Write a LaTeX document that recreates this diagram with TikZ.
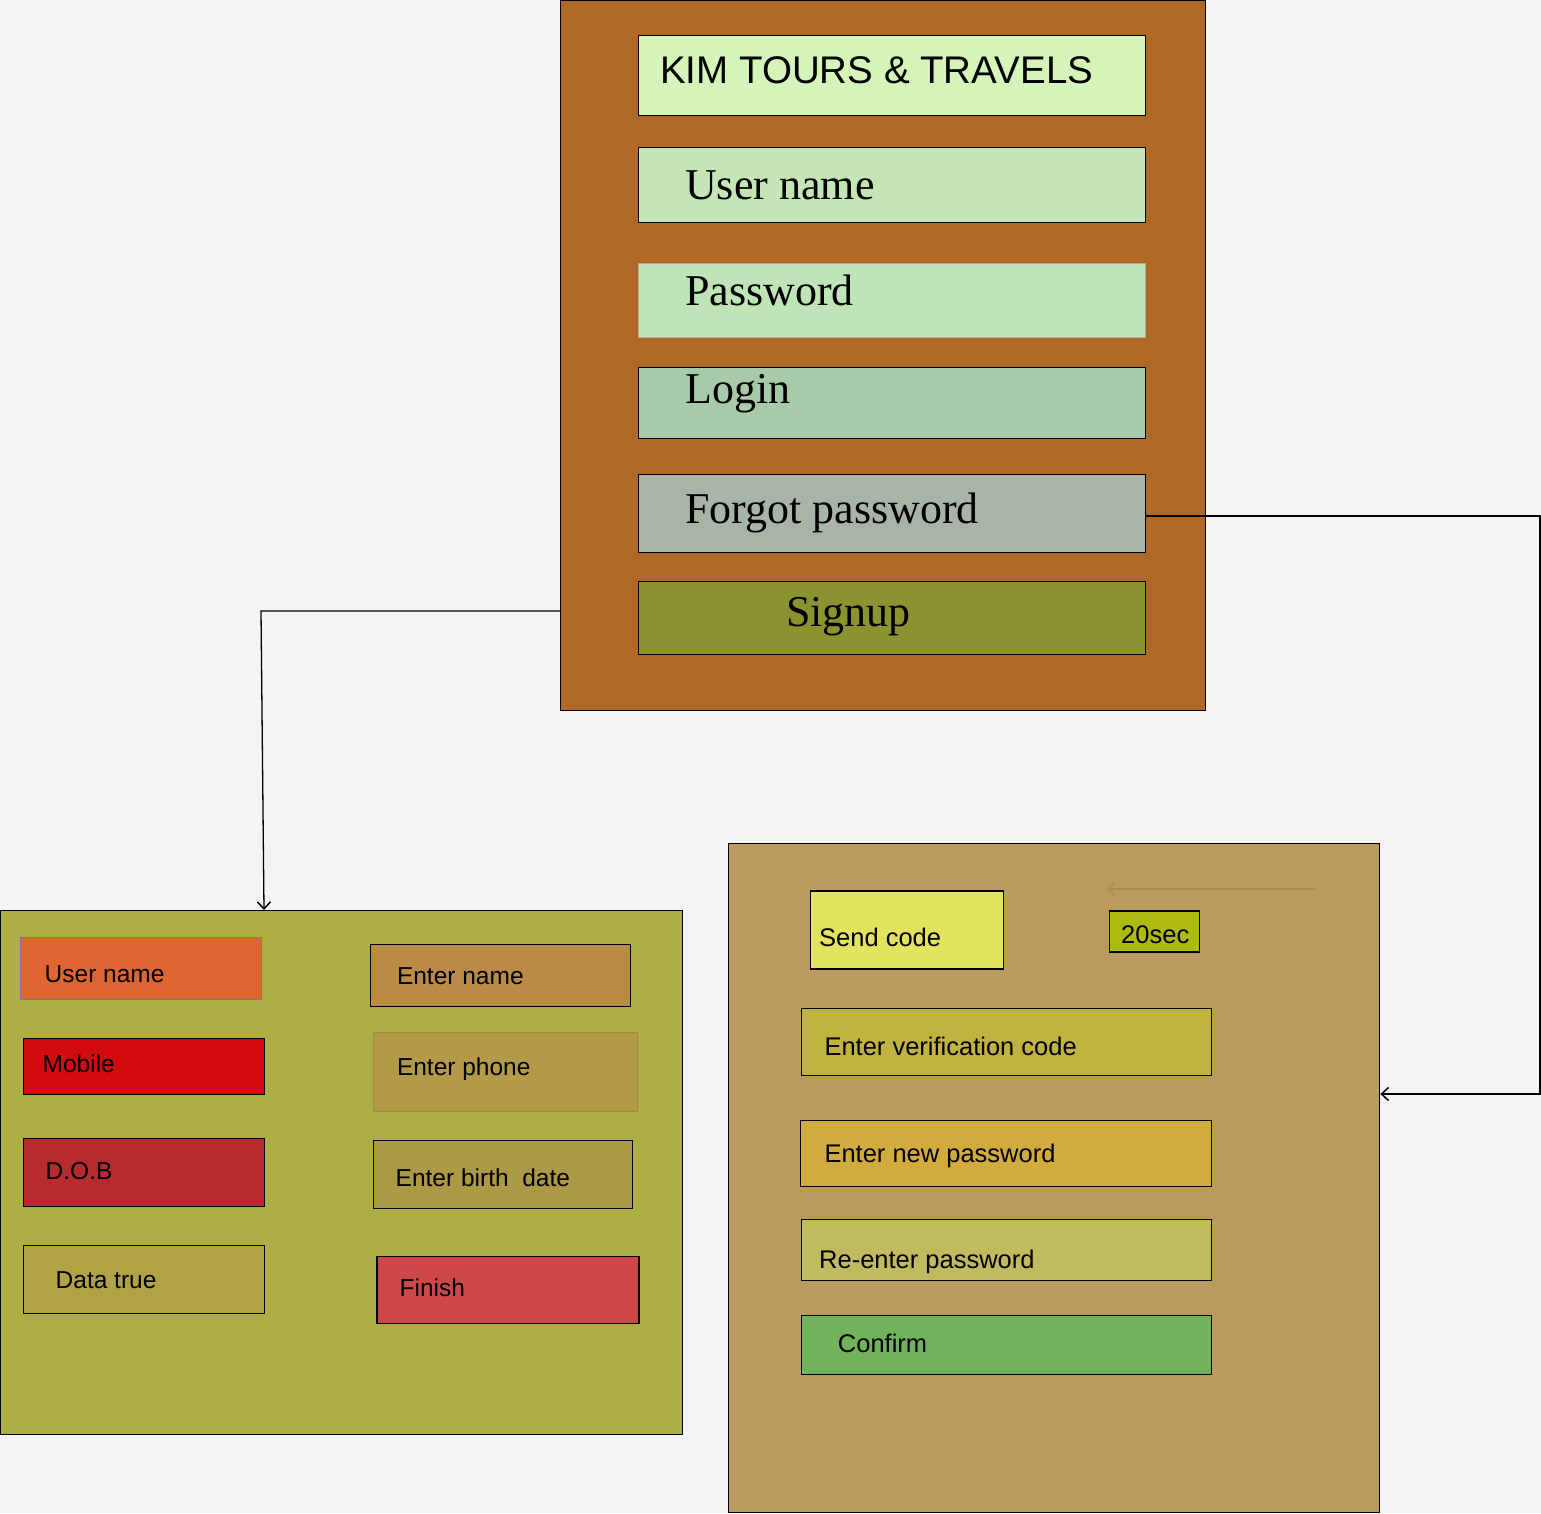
\documentclass[tikz,border=0pt]{standalone}
\usepackage{fontspec}
\setmainfont{Liberation Sans}
\newfontfamily\serifx{Liberation Serif}
\usetikzlibrary{arrows.meta}
\definecolor{bg}{HTML}{F4F4F4}
\definecolor{cbrown}{HTML}{B06826}
\definecolor{ckim}{HTML}{D4F4BA}
\definecolor{cuser}{HTML}{C4E6B7}
\definecolor{cpass}{HTML}{BEE4B7}
\definecolor{cpassb}{HTML}{B3AE8C}
\definecolor{clogin}{HTML}{A7CBA8}
\definecolor{cforgot}{HTML}{A9B4A8}
\definecolor{csignup}{HTML}{8A932F}
\definecolor{cleft}{HTML}{ADAF45}
\definecolor{corange}{HTML}{DF6533}
\definecolor{corangeb}{HTML}{8C6BB0}
\definecolor{cmobile}{HTML}{D40B0E}
\definecolor{cdob}{HTML}{B72A2D}
\definecolor{cdata}{HTML}{B2A246}
\definecolor{cename}{HTML}{B98B47}
\definecolor{cephone}{HTML}{B29A48}
\definecolor{cephoneb}{HTML}{A08A40}
\definecolor{cebirth}{HTML}{AC9945}
\definecolor{cfinish}{HTML}{CF4849}
\definecolor{cright}{HTML}{BA9A5F}
\definecolor{csend}{HTML}{E4E35E}
\definecolor{csec}{HTML}{ADBA12}
\definecolor{cverif}{HTML}{C1B341}
\definecolor{cnewpw}{HTML}{D2AB3E}
\definecolor{creent}{HTML}{C1BA5F}
\definecolor{cconfirm}{HTML}{70B35B}
\definecolor{cfaint}{HTML}{A98A52}
\tikzset{
  box/.style={draw=black, line width=1.1pt, rectangle, inner sep=0pt, anchor=north west},
  lbl/.style={anchor=base west, inner sep=0pt, text=black},
  kimtxt/.style={lbl, font=\fontsize{38.5}{40}\selectfont},
  sertxt/.style={lbl, font=\serifx\fontsize{44}{46}\selectfont},
  lefttxt/.style={lbl, font=\fontsize{24.5}{26}\selectfont},
  righttxt/.style={lbl, font=\fontsize{25.5}{27}\selectfont},
  conn/.style={draw=black, line width=1.3pt},
  tip/.style={-{Straight Barb[length=7pt,width=13pt,line width=1.5pt]}}
}
\begin{document}
\begin{tikzpicture}[x=1pt,y=-1pt]
\useasboundingbox (0,0) rectangle (1541,1513);
\fill[bg] (0,0) rectangle (1541,1513);

% top login panel
\node[box, fill=cbrown, minimum width=645pt, minimum height=710pt] (main) at (560,0) {};
\node[box, fill=ckim, minimum width=507pt, minimum height=80pt] (kim) at (638,35) {};
\node[box, fill=cuser, minimum width=507pt, minimum height=75pt] (uname) at (638,147) {};
\node[box, fill=cpass, draw=cpassb, minimum width=507pt, minimum height=74pt] (pass) at (638,263) {};
\node[box, fill=clogin, minimum width=507pt, minimum height=71pt] (login) at (638,367) {};
\node[box, fill=cforgot, minimum width=507pt, minimum height=78pt] (forgot) at (638,474) {};
\node[box, fill=csignup, minimum width=507pt, minimum height=73pt] (signup) at (638,581) {};
\node[kimtxt] (tkim) at (660,83) {KIM TOURS \& TRAVELS};
\node[sertxt] (tuname) at (685,199) {User name};
\node[sertxt] (tpass) at (685,305) {Password};
\node[sertxt] (tlogin) at (685,403) {Login};
\node[sertxt] (tforgot) at (685,523) {Forgot password};
\node[sertxt] (tsignup) at (786,626) {Signup};

% left signup panel
\node[box, fill=cleft, minimum width=682pt, minimum height=524pt] (left) at (0,910) {};
\node[box, fill=corange, draw=corangeb, line width=0.8pt, minimum width=241pt, minimum height=62pt] (luser) at (19.5,937.3) {};
\node[box, fill=cmobile, minimum width=241pt, minimum height=56pt] (lmobile) at (22.5,1038.3) {};
\node[box, fill=cdob, minimum width=241pt, minimum height=68pt] (ldob) at (22.5,1138.3) {};
\node[box, fill=cdata, minimum width=241pt, minimum height=68pt] (ldata) at (22.5,1245.3) {};
\node[box, fill=cename, minimum width=260pt, minimum height=62pt] (lename) at (369.5,944.3) {};
\node[box, fill=cephone, draw=cephoneb, minimum width=264pt, minimum height=79pt] (lephone) at (372.5,1032.3) {};
\node[box, fill=cebirth, minimum width=259pt, minimum height=68pt] (lebirth) at (372.5,1140.3) {};
\node[box, fill=cfinish, minimum width=262pt, minimum height=67pt] (lfinish) at (376.4,1256.3) {};
\node[lefttxt] (tluser) at (44.5,982) {User name};
\node[lefttxt] (tlmobile) at (42.5,1072) {Mobile};
\node[lefttxt] (tldob) at (45.5,1179.5) {D.O.B};
\node[lefttxt] (tldata) at (55.5,1288) {Data true};
\node[lefttxt] (tlename) at (396.8,984.5) {Enter name};
\node[lefttxt] (tlephone) at (396.8,1075) {Enter phone};
\node[lefttxt] (tlebirth) at (395.5,1186) {Enter birth\ \ date};
\node[lefttxt] (tlfinish) at (399.4,1296) {Finish};

% right forgot panel
\node[box, fill=cright, minimum width=651pt, minimum height=669pt] (right) at (728.3,843) {};
\node[box, fill=csend, minimum width=193pt, minimum height=78pt] (rsend) at (810.3,890.4) {};
\node[box, fill=csec, minimum width=90pt, minimum height=41pt] (rsec) at (1109.3,910.4) {};
\node[box, fill=cverif, minimum width=410pt, minimum height=67pt] (rverif) at (801.3,1007.5) {};
\node[box, fill=cnewpw, minimum width=411pt, minimum height=66pt] (rnewpw) at (800.3,1119.6) {};
\node[box, fill=creent, minimum width=410pt, minimum height=61pt] (rreent) at (801.3,1219.3) {};
\node[box, fill=cconfirm, minimum width=410pt, minimum height=59pt] (rconfirm) at (801.3,1314.6) {};
\node[righttxt] (trsend) at (819,946) {Send code};
\node[righttxt] (trsec) at (1121,943) {20sec};
\node[righttxt] (trverif) at (824.3,1055.5) {Enter verification code};
\node[righttxt] (trnewpw) at (824.3,1162.5) {Enter new password};
\node[righttxt] (trreent) at (819,1268.5) {Re-enter password};
\node[righttxt] (trconfirm) at (837.7,1352.5) {Confirm};

% faint arrow
\coordinate (fa1) at (1315,889);
\coordinate (fa2) at (1107,889);
\draw[draw=cfaint, line width=1.2pt, -{Straight Barb[length=6pt,width=12pt,line width=1.2pt]}] (fa1) -- (fa2);

% connectors
\coordinate (c1) at (560,611);
\coordinate (c2) at (261,611);
\coordinate (c3) at (264,910);
\draw[conn, tip] (c1) -- (c2) -- (c3);
\coordinate (d1) at (1540,516);
\coordinate (d2) at (1540,1094);
\draw[conn, tip] (forgot.east |- 0,516) -- (d1) -- (d2) -- (right.east |- d2);
\end{tikzpicture}
\end{document}
